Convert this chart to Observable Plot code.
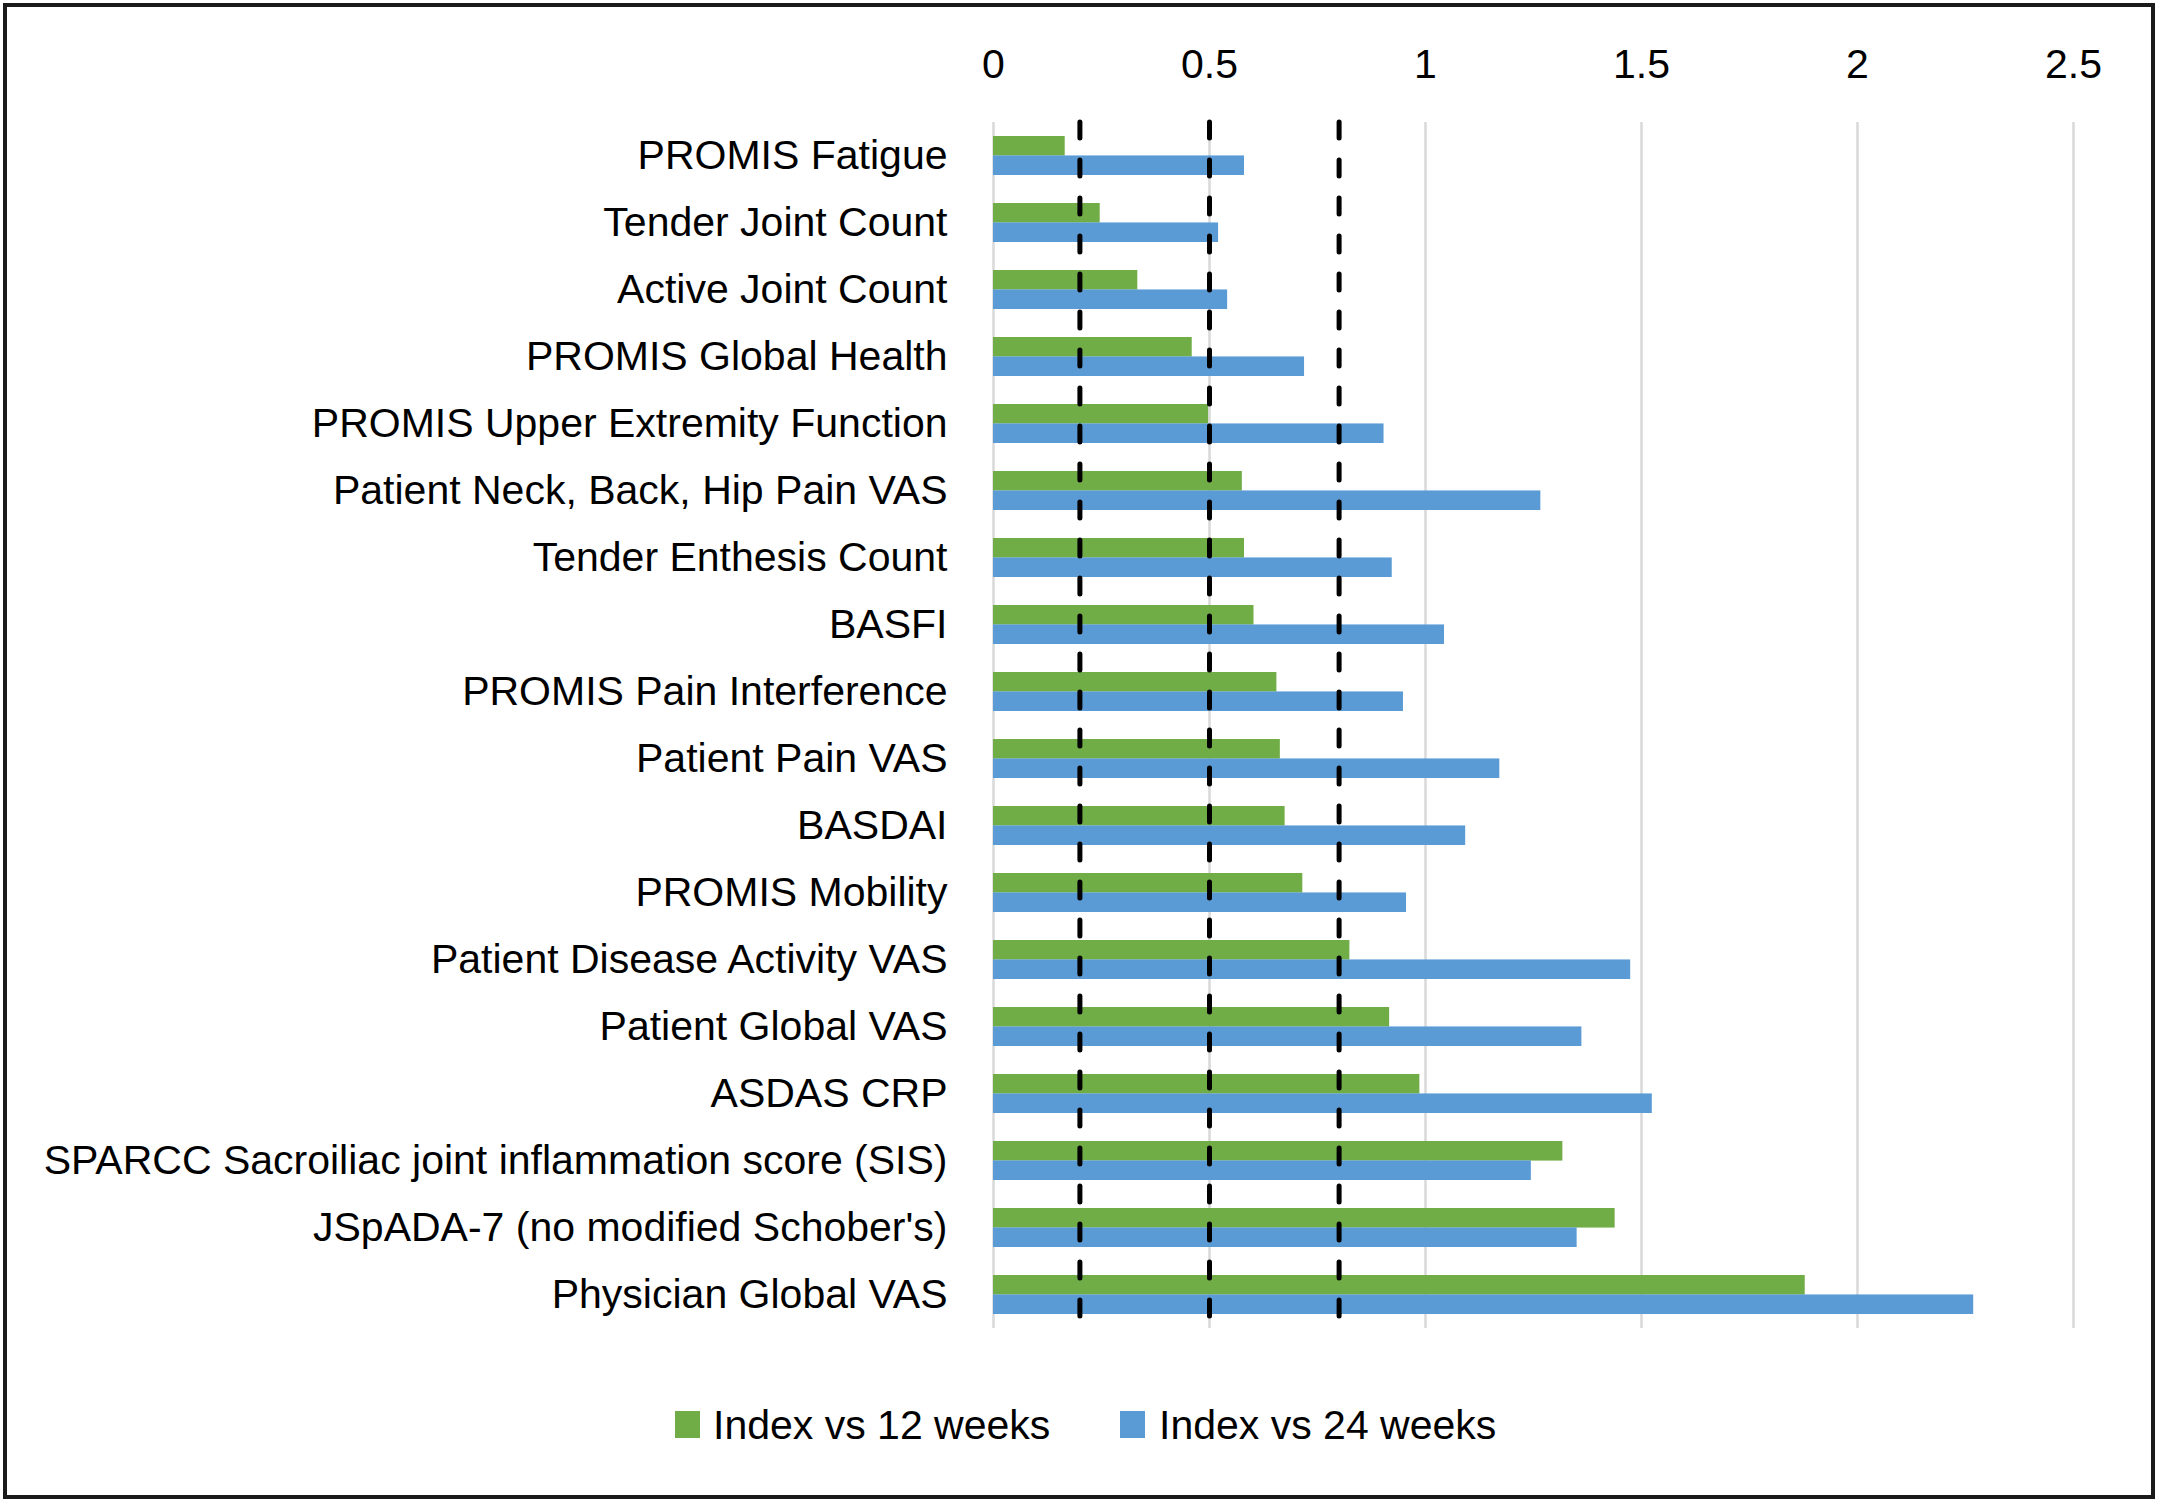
<!DOCTYPE html>
<html><head><meta charset="utf-8">
<script src="https://cdn.jsdelivr.net/npm/d3@7"></script>
<script src="https://cdn.jsdelivr.net/npm/@observablehq/plot@0.6"></script>
<style>
html,body{margin:0;padding:0;background:#fff;}
body{width:2158px;height:1503px;position:relative;overflow:hidden;font-family:"Liberation Sans",Arial,Helvetica,sans-serif;}
#frame{position:absolute;left:3px;top:3px;width:2152px;height:1496px;border:4px solid #1a1a1a;box-sizing:border-box;pointer-events:none;}
#chart{position:absolute;left:0;top:0;}
#legend{position:absolute;top:1400px;left:0;width:2158px;height:50px;font-size:41px;color:#000;}
.sw{position:absolute;width:25px;height:27px;top:11px;}
.lt{position:absolute;top:0;line-height:50px;white-space:nowrap;}
</style></head>
<body>
<div id="chart"></div>
<div id="legend"></div>
<div id="frame"></div>
<script>
const categories = [
  "PROMIS Fatigue",
  "Tender Joint Count",
  "Active Joint Count",
  "PROMIS Global Health",
  "PROMIS Upper Extremity Function",
  "Patient Neck, Back, Hip Pain VAS",
  "Tender Enthesis Count",
  "BASFI",
  "PROMIS Pain Interference",
  "Patient Pain VAS",
  "BASDAI",
  "PROMIS Mobility",
  "Patient Disease Activity VAS",
  "Patient Global VAS",
  "ASDAS CRP",
  "SPARCC Sacroiliac joint inflammation score (SIS)",
  "JSpADA-7 (no modified Schober's)",
  "Physician Global VAS"
];
const index12 = [0.166, 0.247, 0.334, 0.460, 0.498, 0.576, 0.581, 0.603, 0.656, 0.664, 0.675, 0.716, 0.825, 0.917, 0.987, 1.318, 1.439, 1.879];
const index24 = [0.581, 0.521, 0.542, 0.720, 0.904, 1.267, 0.923, 1.044, 0.949, 1.172, 1.093, 0.956, 1.475, 1.362, 1.525, 1.245, 1.351, 2.269];
const xTicks = [0, 0.5, 1, 1.5, 2, 2.5];
const thresholds = [0.2, 0.5, 0.8];
const seriesNames = ["Index vs 12 weeks", "Index vs 24 weeks"];
const seriesColors = ["#70AD47", "#5B9BD5"];

const rows12 = categories.map((c, i) => ({category: c, value: index12[i]}));
const rows24 = categories.map((c, i) => ({category: c, value: index24[i]}));

const W = 2158, H = 1345;
const mTop = 122, mBottom = H - 1328, mLeft = 993, mRight = W - 2073;
const step = (H - mTop - mBottom) / categories.length;
const pad = 0.42;
const half = step * (1 - pad) / 2;

const chart = Plot.plot({
  width: W,
  height: H,
  marginTop: mTop,
  marginBottom: mBottom,
  marginLeft: mLeft,
  marginRight: mRight,
  style: {fontFamily: '"Liberation Sans", Arial, Helvetica, sans-serif', fontSize: "41px", color: "#000", background: "transparent"},
  x: {domain: [0, 2.5], ticks: xTicks, tickFormat: d => String(d)},
  y: {domain: categories, paddingInner: pad, paddingOuter: pad / 2, align: 0.5},
  marks: [
    Plot.gridX(xTicks, {stroke: "#d9d9d9", strokeOpacity: 1, strokeWidth: 2.5}),
    Plot.barX(rows12, {x: "value", y: "category", fill: seriesColors[0], insetBottom: half}),
    Plot.barX(rows24, {x: "value", y: "category", fill: seriesColors[1], insetTop: half}),
    Plot.ruleX(thresholds, {stroke: "#000", strokeWidth: 5, strokeDasharray: "16,22", strokeLinecap: "round"}),
    Plot.axisX(xTicks, {anchor: "top", tickSize: 0, tickPadding: 45, fill: "#000", fontSize: 41, tickFormat: d => String(d), label: null}),
    Plot.axisY({anchor: "left", tickSize: 0, tickPadding: 46, fill: "#000", fontSize: 41, label: null})
  ]
});
document.getElementById("chart").appendChild(chart);

const legend = document.getElementById("legend");
const legendPos = [[675, 713], [1120, 1159]];
seriesNames.forEach((name, i) => {
  const sw = document.createElement("div");
  sw.className = "sw";
  sw.style.left = legendPos[i][0] + "px";
  sw.style.background = seriesColors[i];
  legend.appendChild(sw);
  const t = document.createElement("div");
  t.className = "lt";
  t.style.left = legendPos[i][1] + "px";
  t.textContent = name;
  legend.appendChild(t);
});
</script>
</body></html>
